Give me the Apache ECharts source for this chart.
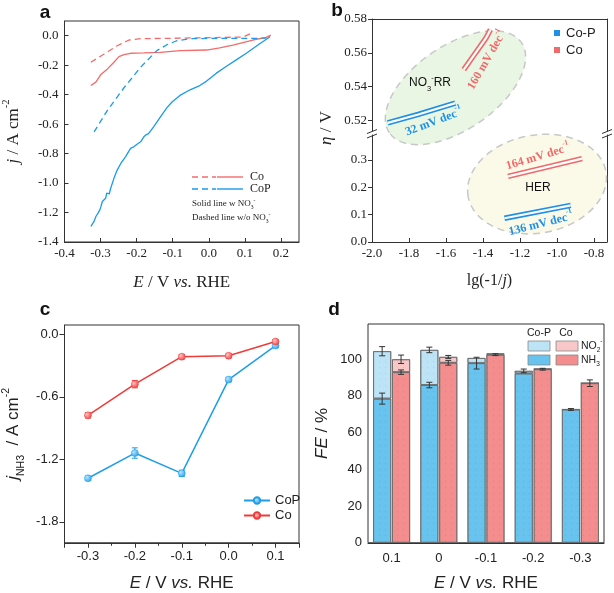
<!DOCTYPE html>
<html><head><meta charset="utf-8">
<script src="https://cdn.jsdelivr.net/npm/echarts@6/dist/echarts.min.js"></script>
<style>html,body{margin:0;padding:0;background:#fff}#c{width:614px;height:593px}</style>
</head><body><div id="c"></div>
<script>
// ---------- Panel a data: LSV curves [E, j] ----------
const aCoSolid = [[-0.327,-0.338],[-0.313,-0.315],[-0.299,-0.263],[-0.281,-0.225],[-0.263,-0.18],[-0.249,-0.142],[-0.235,-0.128],[-0.217,-0.119],[-0.180,-0.117],[-0.134,-0.113],[-0.080,-0.101],[-0.006,-0.097],[0.030,-0.083],[0.067,-0.063],[0.122,-0.029],[0.159,-0.011],[0.172,0.004]];
const aCoDashed = [[-0.327,-0.180],[-0.290,-0.124],[-0.254,-0.068],[-0.221,-0.029],[-0.189,-0.020],[-0.116,-0.018],[-0.025,-0.014],[0.095,-0.009],[0.122,0.022]];
const aCoPSolid = [[-0.327,-1.294],[-0.322,-1.283],[-0.318,-1.260],[-0.313,-1.227],[-0.310,-1.238],[-0.307,-1.204],[-0.302,-1.182],[-0.299,-1.159],[-0.295,-1.125],[-0.290,-1.137],[-0.286,-1.103],[-0.283,-1.069],[-0.279,-1.065],[-0.276,-1.074],[-0.272,-1.035],[-0.263,-0.968],[-0.254,-0.912],[-0.244,-0.867],[-0.231,-0.822],[-0.217,-0.765],[-0.208,-0.754],[-0.199,-0.736],[-0.189,-0.720],[-0.180,-0.686],[-0.173,-0.671],[-0.167,-0.664],[-0.153,-0.619],[-0.134,-0.551],[-0.116,-0.488],[-0.102,-0.450],[-0.080,-0.405],[-0.052,-0.367],[-0.025,-0.338],[-0.006,-0.308],[0.021,-0.254],[0.049,-0.207],[0.076,-0.164],[0.104,-0.119],[0.140,-0.056],[0.170,-0.007]];
const aCoPDashed = [[-0.318,-0.653],[-0.281,-0.506],[-0.235,-0.353],[-0.189,-0.214],[-0.144,-0.101],[-0.116,-0.061],[-0.089,-0.034],[-0.052,-0.020],[0.012,-0.018],[0.122,-0.018],[0.159,-0.016]];

// ---------- Panel b data: Tafel segments [lg(-1/j), eta] ----------
const bCoPNO3 = [[-1.915,0.5185],[-1.75,0.5235],[-1.55,0.5302]];
const bCoNO3 = [[-1.504,0.550],[-1.44,0.560],[-1.385,0.5685],[-1.36,0.5737]];
const bCoHER = [[-1.265,0.240],[-0.865,0.305]];
const bCoPHER = [[-1.284,0.087],[-0.926,0.134]];
const bEllipseNO3 = [-1.549, 0.5393];   // centre of NO3RR region (data coords, upper part)
const bEllipseHER = [-1.108, 0.212];    // centre of HER region (data coords, lower part)

// ---------- Panel c data ----------
const cE = [-0.3, -0.2, -0.1, 0.0, 0.1];
const cCoP = [-1.381, -1.139, -1.334, -0.434, -0.107];
const cCoPErr = [0.02, 0.05, 0.03, 0.02, 0.02];
const cCo = [-0.777, -0.478, -0.214, -0.205, -0.069];
const cCoErr = [0.025, 0.035, 0.02, 0.02, 0.02];

// ---------- Panel d data ----------
const dCats = ['0.1', '0', '-0.1', '-0.2', '-0.3'];
const dCoPNH3 = [78.4, 85.8, 97.7, 92.1, 72.5];
const dCoPNO2 = [25.8, 19.1, 2.8, 1.4, 0];
const dCoNH3 = [92.8, 97.9, 102.3, 94.4, 86.8];
const dCoNO2 = [7.0, 3.2, 0.7, 0.2, 0];
const dCoPNH3Err = [3, 1.5, 3.2, 0, 0.5];
const dCoPTotErr = [2.5, 1.5, 0, 1, 0];
const dCoNH3Err = [1.2, 1.3, 0.5, 0.5, 1.8];
const dCoTotErr = [2.3, 0.8, 0, 0, 0];

// ---------- styling ----------
const SERIF = '"Liberation Serif","Times New Roman",serif';
const SANS = '"Liberation Sans",Arial,sans-serif';
const AX = '#333';
const RED_A = '#f46b6b', BLUE_A = '#1b9be9';
const RED_B = '#f06a6a', BLUE_B = '#1e90e8';
const RED_C = '#f03a3a', BLUE_C = '#1e9ee8';

function rich(ff, size, color, weight) {
  weight = weight || 'normal';
  const base = {fontFamily: ff, fontSize: size, color: color, fontWeight: weight, lineHeight: size * 1.5, verticalAlign: 'middle'};
  return {
    n: base,
    i: Object.assign({}, base, {fontStyle: 'italic'}),
    sup: {fontFamily: ff, fontSize: size * 0.62, color: color, fontWeight: weight, lineHeight: size * 0.75, verticalAlign: 'top'},
    sub: {fontFamily: ff, fontSize: size * 0.62, color: color, fontWeight: weight, lineHeight: size * 0.75, verticalAlign: 'bottom'}
  };
}
const fmt1 = v => (Math.abs(v) < 1e-9 ? 0 : v).toFixed(1);
const fmt2 = v => (Math.abs(v) < 1e-9 ? 0 : v).toFixed(2);

function lineOnly(extra) {
  return Object.assign({
    type: 'value', axisLine: {show: true, onZero: false, lineStyle: {color: AX, width: 1}},
    axisTick: {show: false}, axisLabel: {show: false}, splitLine: {show: false}
  }, extra);
}

const option = {
  animation: false,
  backgroundColor: '#fff',
  grid: [
    {left: 63, top: 21, width: 236, height: 221, show: true, borderColor: AX, borderWidth: 1},  // a
    {left: 372, top: 19, width: 235, height: 112},   // b upper
    {left: 372, top: 135, width: 235, height: 107},  // b lower
    {left: 63, top: 325, width: 236, height: 221, show: true, borderColor: AX, borderWidth: 1}, // c
    {left: 368, top: 324, width: 236, height: 226, show: true, borderColor: AX, borderWidth: 1}  // d
  ],
  xAxis: [
    { gridIndex: 0, type: 'value', min: -0.4, max: 0.25, interval: 0.1,
      axisLine: {onZero: false, lineStyle: {color: AX}}, axisTick: {inside: true, length: 4, lineStyle: {color: AX}},
      splitLine: {show: false},
      axisLabel: {showMaxLabel: false, formatter: fmt1, fontFamily: SERIF, fontSize: 13, color: '#222', margin: 5},
      name: '{i|E}{n| / V }{i|vs.}{n| RHE}', nameLocation: 'middle', nameGap: 28,
      nameTextStyle: {rich: rich(SERIF, 17, '#222')} },
    lineOnly({gridIndex: 1, position: 'top', min: -2.0, max: -0.73}),
    { gridIndex: 2, type: 'value', min: -2.0, max: -0.73, interval: 0.2,
      axisLine: {onZero: false, lineStyle: {color: AX}}, axisTick: {inside: true, length: 4, lineStyle: {color: AX}},
      splitLine: {show: false},
      axisLabel: {showMaxLabel: false, formatter: fmt1, fontFamily: SERIF, fontSize: 13, color: '#222', margin: 5},
      name: '{n|lg(-1/}{i|j}{n|)}', nameLocation: 'middle', nameGap: 27,
      nameTextStyle: {rich: rich(SERIF, 16, '#222')} },
    { gridIndex: 3, type: 'value', min: -0.35, max: 0.15, minInterval: 0.1, maxInterval: 0.1,
      axisLine: {onZero: false, lineStyle: {color: AX}}, axisTick: {length: 5, lineStyle: {color: AX}},
      minorTick: {show: true, splitNumber: 2, length: 3, lineStyle: {color: AX}},
      splitLine: {show: false},
      axisLabel: {showMinLabel: false, showMaxLabel: false, formatter: fmt1, fontFamily: SANS, fontSize: 13, color: '#222', margin: 7},
      name: '{i|E}{n| / V }{i|vs.}{n| RHE}', nameLocation: 'middle', nameGap: 28,
      nameTextStyle: {rich: rich(SANS, 17, '#222')} },
    { gridIndex: 4, type: 'category', data: dCats,
      axisLine: {lineStyle: {color: AX}}, axisTick: {show: false},
      axisLabel: {fontFamily: SANS, fontSize: 13, color: '#222', margin: 9},
      name: '{i|E}{n| / V }{i|vs.}{n| RHE}', nameLocation: 'middle', nameGap: 28,
      nameTextStyle: {rich: rich(SANS, 17, '#222')} }
  ],
  yAxis: [
    { gridIndex: 0, type: 'value', min: -1.4, max: 0.1, interval: 0.2,
      axisLine: {onZero: false, lineStyle: {color: AX}}, axisTick: {inside: true, length: 4, lineStyle: {color: AX}},
      splitLine: {show: false},
      axisLabel: {showMaxLabel: false, formatter: fmt1, fontFamily: SERIF, fontSize: 13, color: '#222', margin: 6},
      name: '{i|j}{n| / A cm}{sup|-2}', nameLocation: 'middle', nameGap: 38, nameRotate: 90,
      nameTextStyle: {rich: rich(SERIF, 17, '#222')} },
    { gridIndex: 1, type: 'value', min: 0.5137, max: 0.58, minInterval: 0.02, maxInterval: 0.02,
      axisLine: {onZero: false, lineStyle: {color: AX}}, axisTick: {length: 4, lineStyle: {color: AX}},
      splitLine: {show: false},
      axisLabel: {showMinLabel: false, formatter: fmt2, fontFamily: SERIF, fontSize: 13, color: '#222', margin: 5} },
    lineOnly({gridIndex: 1, position: 'right', min: 0, max: 1}),
    { gridIndex: 2, type: 'value', min: 0, max: 0.3915, interval: 0.1,
      axisLine: {onZero: false, lineStyle: {color: AX}}, axisTick: {length: 4, lineStyle: {color: AX}},
      splitLine: {show: false},
      axisLabel: {showMaxLabel: false, formatter: fmt1, fontFamily: SERIF, fontSize: 13, color: '#222', margin: 5} },
    lineOnly({gridIndex: 2, position: 'right', min: 0, max: 1}),
    { gridIndex: 3, type: 'value', min: -2.0, max: 0.09, minInterval: 0.6, maxInterval: 0.6,
      axisLine: {onZero: false, lineStyle: {color: AX}}, axisTick: {length: 5, lineStyle: {color: AX}},
      splitLine: {show: false},
      axisLabel: {showMinLabel: false, showMaxLabel: false, formatter: fmt1, fontFamily: SANS, fontSize: 13, color: '#222', margin: 6},
      name: '{i|j}{sub|NH3}{n|  / A cm}{sup|-2}', nameLocation: 'middle', nameGap: 38, nameRotate: 90,
      nameTextStyle: {rich: rich(SANS, 17, '#222')} },
    { gridIndex: 4, type: 'value', min: 0, max: 119, interval: 20,
      axisLine: {onZero: false, lineStyle: {color: AX}}, axisTick: {length: 5, lineStyle: {color: AX}},
      splitLine: {show: false},
      axisLabel: {showMaxLabel: false, fontFamily: SANS, fontSize: 13, color: '#222', margin: 6},
      name: '{i|FE}{n| / %}', nameLocation: 'middle', nameGap: 33, nameRotate: 90,
      nameTextStyle: {rich: rich(SANS, 17, '#222')} }
  ],
  legend: [{
    data: ['CoP', 'Co'], left: 238, top: 489, orient: 'vertical', itemWidth: 26, itemHeight: 8, itemGap: 2,
    textStyle: {fontFamily: SANS, fontSize: 13, color: '#222'}
  }],
  series: []
};

// panel a series
function aLine(name, data, color, dashed) {
  return {name: name, type: 'line', xAxisIndex: 0, yAxisIndex: 0, data: data, showSymbol: false, symbol: 'none',
    lineStyle: {color: color, width: 1.3, type: dashed ? [6, 4] : 'solid'}, z: 3};
}
option.series.push(aLine('Co w/o', aCoDashed, RED_A, true));
option.series.push(aLine('Co w', aCoSolid, RED_A, false));
option.series.push(aLine('CoP w/o', aCoPDashed, BLUE_A, true));
option.series.push(aLine('CoP w', aCoPSolid, BLUE_A, false));

// panel b series (hollow thick segments)
function bSeg(name, data, xi, yi, color) {
  return [
    {name: name, type: 'line', xAxisIndex: xi, yAxisIndex: yi, data: data, symbol: 'none',
      lineStyle: {color: color, width: 5.5, cap: 'butt'}, z: 4},
    {name: name + ' in', type: 'line', xAxisIndex: xi, yAxisIndex: yi, data: data, symbol: 'none',
      lineStyle: {color: '#fff', width: 2.2, cap: 'butt'}, z: 5}
  ];
}
option.series.push(...bSeg('bCoP1', bCoPNO3, 1, 1, BLUE_B));
option.series.push(...bSeg('bCo1', bCoNO3, 1, 1, RED_B));
option.series.push(...bSeg('bCo2', bCoHER, 2, 3, RED_B));
option.series.push(...bSeg('bCoP2', bCoPHER, 2, 3, BLUE_B));

// panel c series
function ball(color, light) {
  return new echarts.graphic.RadialGradient(0.35, 0.35, 0.75, [{offset: 0, color: light}, {offset: 1, color: color}]);
}
function cLine(name, ys, color, light) {
  return {name: name, type: 'line', xAxisIndex: 3, yAxisIndex: 5, data: cE.map((x, i) => [x, ys[i]]),
    symbol: 'circle', symbolSize: 7, showSymbol: true,
    lineStyle: {color: color, width: 1.5}, itemStyle: {color: ball(color, light), borderColor: color, borderWidth: 0.5}, z: 4};
}
function cErr(name, ys, es, color) {
  return {name: name, type: 'custom', xAxisIndex: 3, yAxisIndex: 5,
    data: cE.map((x, i) => [x, ys[i], es[i]]), z: 3,
    renderItem: function (params, api) {
      const x = api.value(0), v = api.value(1), e = api.value(2);
      const t = api.coord([x, v + e]), b = api.coord([x, v - e]);
      const w = 3, st = {stroke: color, lineWidth: 1};
      return {type: 'group', children: [
        {type: 'line', shape: {x1: t[0], y1: t[1], x2: b[0], y2: b[1]}, style: st},
        {type: 'line', shape: {x1: t[0] - w, y1: t[1], x2: t[0] + w, y2: t[1]}, style: st},
        {type: 'line', shape: {x1: b[0] - w, y1: b[1], x2: b[0] + w, y2: b[1]}, style: st}
      ]};
    }};
}
option.series.push(cErr('CoP err', cCoP, cCoPErr, BLUE_C));
option.series.push(cErr('Co err', cCo, cCoErr, RED_C));
option.series.push(cLine('CoP', cCoP, BLUE_C, '#b8e4ff'));
option.series.push(cLine('Co', cCo, RED_C, '#ffc2c2'));

// panel d series
const DEC = {symbol: 'circle', symbolSize: 0.45, color: 'rgba(0,0,0,0.07)', dashArrayX: 3, dashArrayY: 3};
function dBar(name, vals, stack, color) {
  return {name: name, type: 'bar', xAxisIndex: 4, yAxisIndex: 6, stack: stack, data: vals,
    barWidth: 18, barGap: '5%',
    itemStyle: {color: color, borderColor: '#6a6a6a', borderWidth: 0.8, decal: DEC}, z: 2};
}
option.series.push(dBar('dCoPNH3', dCoPNH3, 'cop', '#68c3ef'));
option.series.push(dBar('dCoPNO2', dCoPNO2, 'cop', '#bce3f6'));
option.series.push(dBar('dCoNH3', dCoNH3, 'co', '#f48e8e'));
option.series.push(dBar('dCoNO2', dCoNO2, 'co', '#f9c7c7'));
function dErr(name, pts, off) {
  return {name: name, type: 'custom', xAxisIndex: 4, yAxisIndex: 6, data: pts, z: 6,
    renderItem: function (params, api) {
      const x = api.value(0), v = api.value(1), e = api.value(2);
      if (!e) return null;
      const t = api.coord([x, v + e]), b = api.coord([x, v - e]);
      const cx = t[0] + off, w = 3, st = {stroke: '#333', lineWidth: 1};
      return {type: 'group', children: [
        {type: 'line', shape: {x1: cx, y1: t[1], x2: cx, y2: b[1]}, style: st},
        {type: 'line', shape: {x1: cx - w, y1: t[1], x2: cx + w, y2: t[1]}, style: st},
        {type: 'line', shape: {x1: cx - w, y1: b[1], x2: cx + w, y2: b[1]}, style: st}
      ]};
    }};
}
const dCoPErrPts = dCats.map((c, i) => [i, dCoPNH3[i], dCoPNH3Err[i]])
  .concat(dCats.map((c, i) => [i, dCoPNH3[i] + dCoPNO2[i], dCoPTotErr[i]]));
const dCoErrPts = dCats.map((c, i) => [i, dCoNH3[i], dCoNH3Err[i]])
  .concat(dCats.map((c, i) => [i, dCoNH3[i] + dCoNO2[i], dCoTotErr[i]]));
option.series.push(dErr('dCoP err', dCoPErrPts, -9.45));
option.series.push(dErr('dCo err', dCoErrPts, 9.45));

const chart = echarts.init(document.getElementById('c'), null, {renderer: 'canvas'});
chart.setOption(option);

// ---------- annotations / legends (graphic) ----------
function txt(x, y, text, ff, size, color, opts) {
  opts = opts || {};
  return Object.assign({type: 'text', x: x, y: y, rotation: opts.rotation || 0, z: 50,
    style: {text: text, rich: rich(ff, size, color, opts.weight), font: (opts.weight || 'normal') + ' ' + size + 'px ' + ff,
      fill: color, align: opts.align || 'center', textAlign: opts.align || 'center',
      verticalAlign: 'middle', textVerticalAlign: 'middle'}});
}
function seg(x1, y1, x2, y2, color, dash, w) {
  return {type: 'line', z: 50, shape: {x1: x1, y1: y1, x2: x2, y2: y2},
    style: {stroke: color, lineWidth: w || 1.5, lineDash: dash || null}};
}
const g = [];
// panel letters
g.push(txt(45, 13, 'a', SANS, 19, '#111', {weight: 'bold'}));
g.push(txt(337, 11, 'b', SANS, 19, '#111', {weight: 'bold'}));
g.push(txt(45, 310, 'c', SANS, 19, '#111', {weight: 'bold'}));
g.push(txt(334, 310, 'd', SANS, 19, '#111', {weight: 'bold'}));

// panel a legend
g.push(seg(192, 177, 216, 177, RED_A, [6, 4], 1.4));
g.push(seg(217, 177, 243, 177, RED_A, null, 1.4));
g.push(seg(192, 189, 216, 189, BLUE_A, [6, 4], 1.4));
g.push(seg(217, 189, 243, 189, BLUE_A, null, 1.4));
g.push(txt(250, 177, '{n|Co}', SERIF, 12, '#222', {align: 'left'}));
g.push(txt(250, 189, '{n|CoP}', SERIF, 12, '#222', {align: 'left'}));
g.push(txt(192, 204, '{n|Solid line w NO}{sub|3}{sup|-}', SERIF, 9, '#222', {align: 'left'}));
g.push(txt(192, 218, '{n|Dashed line w/o NO}{sub|3}{sup|-}', SERIF, 9, '#222', {align: 'left'}));

// panel b ellipses
const pNO3 = chart.convertToPixel({xAxisIndex: 1, yAxisIndex: 1}, bEllipseNO3);
const pHER = chart.convertToPixel({xAxisIndex: 2, yAxisIndex: 3}, bEllipseHER);
g.push({type: 'ellipse', x: pNO3[0], y: pNO3[1], rotation: 0.6, z: 1, silent: true,
  shape: {cx: 0, cy: 0, rx: 80, ry: 42},
  style: {fill: 'rgba(214,238,204,0.55)', stroke: '#c8c8c8', lineWidth: 1.5, lineDash: [7, 5]}});
g.push({type: 'ellipse', x: pHER[0], y: pHER[1], rotation: 0.18, z: 1, silent: true,
  shape: {cx: 0, cy: 0, rx: 70, ry: 49},
  style: {fill: 'rgba(250,248,226,0.75)', stroke: '#c8c8c8', lineWidth: 1.5, lineDash: [7, 5]}});
g.push(txt(430, 83, '{n|NO}{sub|3}{sup|-}{n|RR}', SANS, 12, '#111'));
g.push(txt(538, 188, '{n|HER}', SANS, 12, '#111'));
g.push(txt(487, 60, '{n|160 mV dec}{sup|-1}', SERIF, 12, RED_B, {weight: 'bold', rotation: 1.05}));
g.push(txt(434, 122, '{n|32 mV dec}{sup|-1}', SERIF, 12, BLUE_B, {weight: 'bold', rotation: 0.36}));
g.push(txt(538, 157, '{n|164 mV dec}{sup|-1}', SERIF, 12, RED_B, {weight: 'bold', rotation: 0.29}));
g.push(txt(541, 224, '{n|136 mV dec}{sup|-1}', SERIF, 12, BLUE_B, {weight: 'bold', rotation: 0.25}));
// panel b legend
g.push({type: 'rect', z: 50, shape: {x: 554, y: 30, width: 6, height: 6}, style: {fill: BLUE_B}});
g.push({type: 'rect', z: 50, shape: {x: 554, y: 47, width: 6, height: 6}, style: {fill: RED_B}});
g.push(txt(566, 33, '{n|Co-P}', SANS, 13, '#222', {align: 'left'}));
g.push(txt(566, 50, '{n|Co}', SANS, 13, '#222', {align: 'left'}));
// panel b y title and break marks
g.push(txt(327, 128, '{i|η}{n| / V}', SERIF, 17, '#222', {rotation: Math.PI / 2}));
[372, 607].forEach(function (x) {
  g.push(seg(x - 5, 133.5, x + 5, 129.5, '#333', null, 1));
  g.push(seg(x - 5, 138, x + 5, 134, '#333', null, 1));
});

// panel d legend
g.push(txt(539, 333, '{n|Co-P}', SANS, 10.5, '#222'));
g.push(txt(566, 333, '{n|Co}', SANS, 10.5, '#222'));
g.push({type: 'rect', z: 50, shape: {x: 528, y: 341, width: 22, height: 10}, style: {fill: '#bce3f6', stroke: '#888', lineWidth: 0.8}});
g.push({type: 'rect', z: 50, shape: {x: 556, y: 341, width: 22, height: 10}, style: {fill: '#f9c7c7', stroke: '#888', lineWidth: 0.8}});
g.push({type: 'rect', z: 50, shape: {x: 528, y: 355, width: 22, height: 10}, style: {fill: '#68c3ef', stroke: '#888', lineWidth: 0.8}});
g.push({type: 'rect', z: 50, shape: {x: 556, y: 355, width: 22, height: 10}, style: {fill: '#f48e8e', stroke: '#888', lineWidth: 0.8}});
g.push(txt(581, 346, '{n|NO}{sub|2}{sup|-}', SANS, 10.5, '#222', {align: 'left'}));
g.push(txt(581, 360, '{n|NH}{sub|3}', SANS, 10.5, '#222', {align: 'left'}));

chart.setOption({graphic: {elements: g}});
</script>
</body></html>
